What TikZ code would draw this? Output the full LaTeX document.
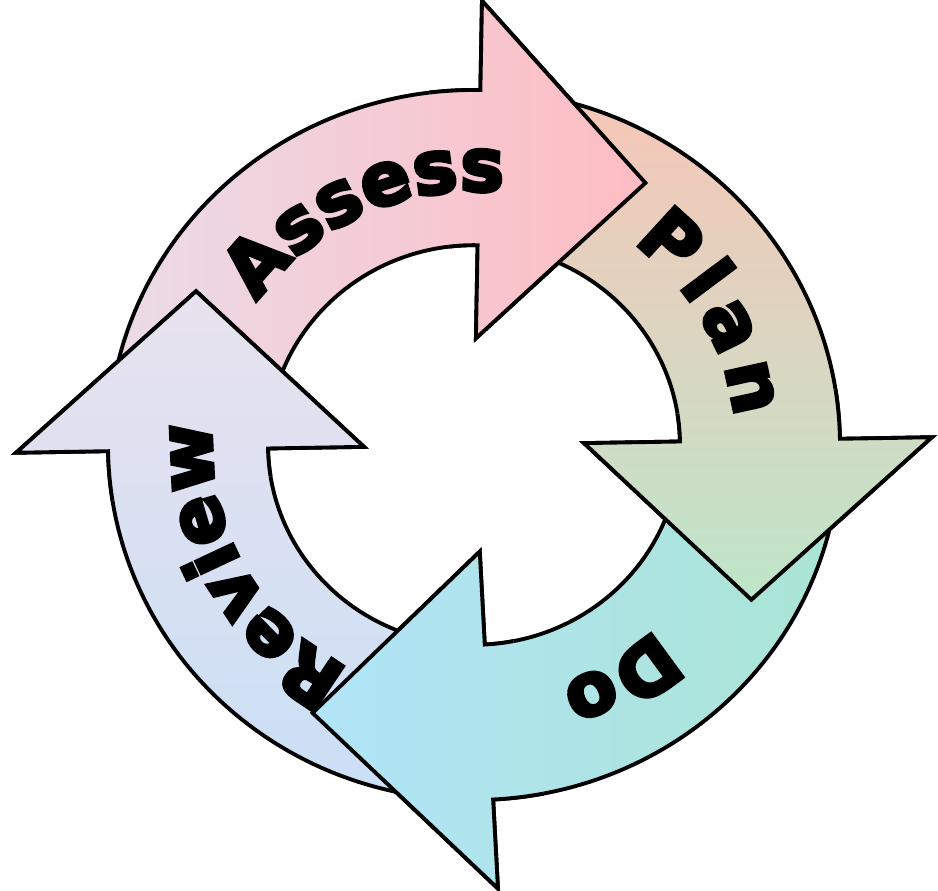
\documentclass[tikz,border=0pt]{standalone}
\usepackage{fontspec}
\newfontfamily\cyclefont[FakeBold=5]{DejaVu Sans Bold}
\newcommand{\cyclelabel}{\cyclefont\fontsize{42}{44}\selectfont}
\usetikzlibrary{decorations.text}

% one arrow of the ring: #1 tail angle, #2 head base angle, #3 tip angle, #4 fill
\newcommand{\ringarrow}[4]{%
  \path[ring,#4] (#1:366) arc[start angle=#1, end angle=#2, radius=366]
    -- (#2:458) -- (#3:320) -- (#2:110) -- (#2:206)
    arc[start angle=#2, end angle=#1, radius=206] -- cycle;}
% the same arrow again, only round its head, so that the head lies on the next tail
\newcommand{\ringhead}[4]{%
  \begin{scope}
    \clip (0,0) -- ({#2+8}:700) -- ({#3-12}:700) -- cycle;
    \ringarrow{#1}{#2}{#3}{#4}
  \end{scope}}
% curved text, read clockwise
\newcommand{\ringlabel}[3]{%
  \path[decorate, decoration={text along path, text align=center, text={|\cyclelabel|#3}}]
    (#1:262) arc[start angle=#1, end angle=#2, radius=262];}

\begin{document}
\begin{tikzpicture}[x=0.02cm, y=0.02cm,
  ring/.style={draw=black, line width=2.2pt, line join=miter},
  assessfill/.style={left color=assesslav, right color=assesspink},
  planfill/.style={top color=planpeach, bottom color=planmint},
  dofill/.style={right color=domint, left color=doblue},
  reviewfill/.style={bottom color=reviewblue, top color=reviewlav}]
  \definecolor{assesslav}{HTML}{EADCE8}
  \definecolor{assesspink}{HTML}{FFBCC2}
  \definecolor{planpeach}{HTML}{F7C6B8}
  \definecolor{planmint}{HTML}{BEE6CA}
  \definecolor{domint}{HTML}{AAE4D4}
  \definecolor{doblue}{HTML}{B2E4F8}
  \definecolor{reviewblue}{HTML}{CADFF6}
  \definecolor{reviewlav}{HTML}{E8E2EE}
  \useasboundingbox (-474,-446) rectangle (464,445);
  \begin{scope}[yscale=0.97]
    \ringarrow{170}{89}{57.6}{assessfill}
    \ringarrow{79}{1}{-29.9}{planfill}
    \ringarrow{-9}{-87}{-120.3}{dofill}
    \ringarrow{-101}{-179}{-209.7}{reviewfill}
    % heads over the tails that follow them
    \ringhead{170}{89}{57.6}{assessfill}
    \ringhead{79}{1}{-29.9}{planfill}
    \ringhead{-9}{-87}{-120.3}{dofill}
    \ringhead{-101}{-179}{-209.7}{reviewfill}
    \ringlabel{175}{55}{Assess}
    \ringlabel{89}{-31}{P{\kern5pt}l{\kern5pt}a{\kern5pt}n}
    \ringlabel{2}{-118}{Do}
    \ringlabel{268}{148}{Review}
  \end{scope}
\end{tikzpicture}
\end{document}
